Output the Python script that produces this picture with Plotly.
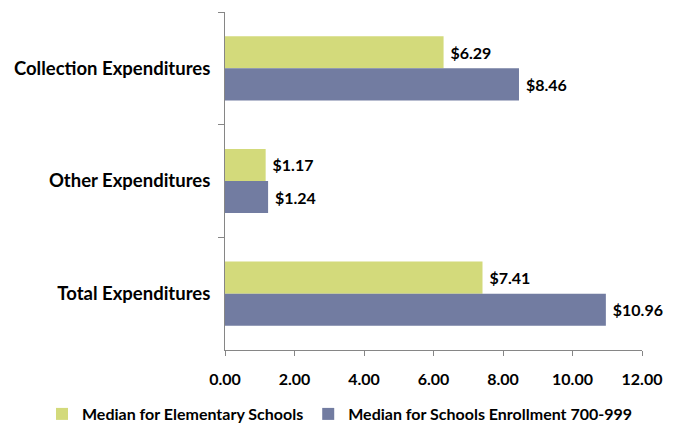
import plotly.graph_objects as go

categories = ["Collection Expenditures", "Other Expenditures", "Total Expenditures"]
elementary = [6.29, 1.17, 7.41]
enroll_700_999 = [8.46, 1.24, 10.96]
series_names = ["Median for Elementary Schools", "Median for Schools Enrollment 700-999"]
x_ticks = [0, 2, 4, 6, 8, 10, 12]

FONT = "Lato, 'Open Sans', sans-serif"

fig = go.Figure()
fig.add_trace(go.Bar(
    y=categories, x=elementary, orientation="h", name=series_names[0],
    marker=dict(color="#D3DA7B", line=dict(width=0)),
    text=[f"\u00a0${v:.2f}" for v in elementary], textposition="outside",
    textfont=dict(family=FONT, size=16, color="black", weight="bold"),
    cliponaxis=False,
))
fig.add_trace(go.Bar(
    y=categories, x=enroll_700_999, orientation="h", name=series_names[1],
    marker=dict(color="#727CA1", line=dict(width=0)),
    text=[f"\u00a0${v:.2f}" for v in enroll_700_999], textposition="outside",
    textfont=dict(family=FONT, size=16, color="black", weight="bold"),
    cliponaxis=False,
))

L, R, T, B, W, H = 225, 47, 12, 76, 689, 426
pw, ph = W - L - R, H - T - B

fig.update_layout(
    width=W, height=H,
    margin=dict(l=L, r=R, t=T, b=B, autoexpand=False),
    paper_bgcolor="white", plot_bgcolor="white",
    barmode="group", bargap=0.43, bargroupgap=0,
    font=dict(family=FONT, color="black"),
    showlegend=True,
    legend=dict(orientation="h",
                x=(42 - L) / pw, xanchor="left",
                y=((H - B) - 414) / ph, yanchor="middle",
                font=dict(family=FONT, size=16, color="black", weight="bold"),
                itemwidth=30, tracegroupgap=0),
    xaxis=dict(range=[0, 12], tickvals=x_ticks, ticktext=[f"{v:.2f}" for v in x_ticks],
               showgrid=False, zeroline=False, showline=True, linecolor="#868686", linewidth=1,
               ticks="outside", ticklen=5, tickcolor="#868686", automargin=False,
               ticklabelstandoff=10,
               tickfont=dict(family=FONT, size=16, color="black", weight="bold")),
    yaxis=dict(autorange="reversed", showgrid=False, zeroline=False, showline=True,
               linecolor="#868686", linewidth=1, ticks="outside", ticklen=6, tickcolor="#868686",
               tickson="boundaries", automargin=False, ticklabelstandoff=10,
               tickfont=dict(family=FONT, size=18.5, color="black", weight="bold")),
)

fig.write_html("out.html", config={"displayModeBar": False},
               post_script="document.body.style.margin='0';")
